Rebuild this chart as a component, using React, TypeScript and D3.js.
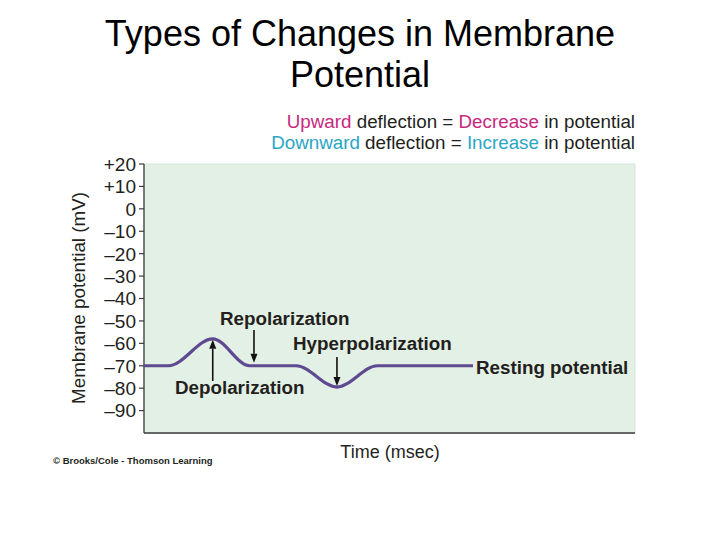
import * as d3 from 'd3';

// membrane potential trace (time in msec, potential in mV)
const times = [0, 5, 14, 21.5, 31, 39.3, 47.5, 67];
const potential = [-70, -70, -58, -70, -70, -79.5, -70, -70];

const yTicks = [20, 10, 0, -10, -20, -30, -40, -50, -60, -70, -80, -90];
const yTickLabels = ['+20', '+10', '0', '–10', '–20', '–30', '–40', '–50', '–60', '–70', '–80', '–90'];

const App = () => {
  const width = 720;
  const height = 540;
  const plot = { left: 144, right: 635, top: 164, bottom: 433 };

  const xScale = d3.scaleLinear().domain([0, 100]).range([plot.left, plot.right]);
  const yScale = d3.scaleLinear().domain([-100, 20]).range([plot.bottom, plot.top]);

  const points = times.map((t, i) => [t, potential[i]]);
  const line = d3.line()
    .x((d) => xScale(d[0]))
    .y((d) => yScale(d[1]))
    .curve(d3.curveMonotoneX);

  const font = 'Liberation Sans, Arial, Helvetica, sans-serif';
  const magenta = '#c8287e';
  const cyan = '#2aa6c6';

  // arrow helper: from (x, y1) to tip at (x, y2)
  const arrow = (x, y1, y2) => {
    const dir = y2 > y1 ? 1 : -1;
    const head = 9;
    return (
      <g>
        <line x1={x} x2={x} y1={y1} y2={y2 - dir * head} stroke="#111" strokeWidth={1.6} />
        <path d={`M${x - 3.5},${y2 - dir * head} L${x + 3.5},${y2 - dir * head} L${x},${y2} Z`} fill="#111" />
      </g>
    );
  };

  const peakX = xScale(times[2]);
  const peakY = yScale(potential[2]);
  const troughX = xScale(times[5]);
  const troughY = yScale(potential[5]);
  const repolX = xScale(22.4);
  const restY = yScale(-70);

  return (
    <svg width={width} height={height} style={{ position: 'absolute', left: 0, top: 0 }} fontFamily={font}>
      <rect width={width} height={height} fill="#fff" />
      <text x={360} y={46} textAnchor="middle" fontSize={36} fill="#000">Types of Changes in Membrane</text>
      <text x={360} y={87} textAnchor="middle" fontSize={36} fill="#000">Potential</text>

      <text x={635} y={128} textAnchor="end" fontSize={18.8} fill="#231f20">
        <tspan fill={magenta}>Upward</tspan> deflection = <tspan fill={magenta}>Decrease</tspan> in potential
      </text>
      <text x={635} y={149} textAnchor="end" fontSize={18.8} fill="#231f20">
        <tspan fill={cyan}>Downward</tspan> deflection = <tspan fill={cyan}>Increase</tspan> in potential
      </text>

      <rect x={plot.left} y={plot.top} width={plot.right - plot.left} height={plot.bottom - plot.top}
        fill="#e3f0e5" stroke="#d4e6d8" strokeWidth={1} />
      <line x1={plot.left} x2={plot.left} y1={plot.top} y2={plot.bottom} stroke="#3c3c3c" strokeWidth={1.3} />
      <line x1={plot.left} x2={plot.right} y1={plot.bottom} y2={plot.bottom} stroke="#3c3c3c" strokeWidth={1.3} />

      {yTicks.map((v, i) => (
        <g key={v} transform={`translate(0,${yScale(v)})`}>
          <line x1={plot.left - 5} x2={plot.left} stroke="#3c3c3c" strokeWidth={1.2} />
          <text x={136} dy="0.36em" textAnchor="end" fontSize={19} fill="#231f20">{yTickLabels[i]}</text>
        </g>
      ))}

      <text transform="translate(85,298) rotate(-90)" textAnchor="middle" fontSize={18.8} fill="#231f20">
        Membrane potential (mV)
      </text>
      <text x={390} y={458} textAnchor="middle" fontSize={18} fill="#231f20">Time (msec)</text>
      <text x={53} y={464} fontSize={9.5} fontWeight="bold" fill="#231f20">© Brooks/Cole - Thomson Learning</text>

      <path d={line(points)} fill="none" stroke="#5f4a91" strokeWidth={3.2} />

      {arrow(repolX, 330, restY - 3)}
      {arrow(troughX, 357, troughY - 1)}
      {arrow(peakX, 381, peakY + 1)}

      <g fontWeight="bold" fontSize={18.8} fill="#231f20">
        <text x={220} y={325}>Repolarization</text>
        <text x={293} y={350}>Hyperpolarization</text>
        <text x={175} y={394}>Depolarization</text>
        <text x={476} y={374}>Resting potential</text>
      </g>
    </svg>
  );
};

export default App;
